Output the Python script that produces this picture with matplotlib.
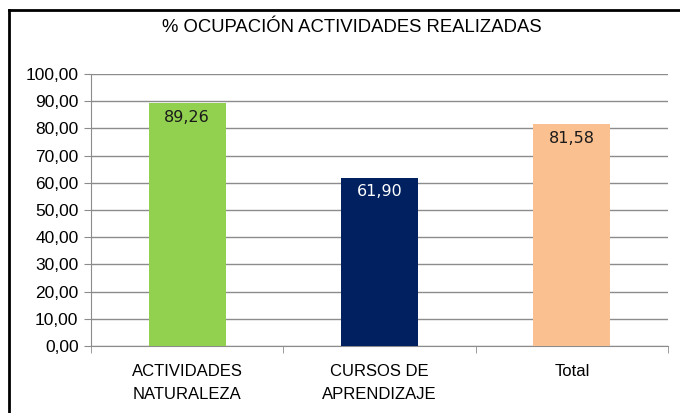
import matplotlib.pyplot as plt
from matplotlib.lines import Line2D
from matplotlib.ticker import FixedLocator, FuncFormatter

categories = ["ACTIVIDADES\nNATURALEZA", "CURSOS DE\nAPRENDIZAJE", "Total"]
values = [89.26, 61.90, 81.58]
colors = ["#92D050", "#002060", "#FAC090"]
label_colors = ["#1a1a1a", "white", "#1a1a1a"]

plt.rcParams['font.family'] = ['Liberation Sans', 'DejaVu Sans']

fig = plt.figure(figsize=(6.8, 4.13), dpi=100)
ax = fig.add_axes([91 / 680, 1 - 346 / 413, (668 - 91) / 680, (346 - 74) / 413])

x = list(range(len(categories)))
bars = ax.bar(x, values, width=0.4, color=colors, zorder=3)

for b, v, c in zip(bars, values, label_colors):
    ax.text(b.get_x() + b.get_width() / 2, v - 2.5, f"{v:.2f}".replace(".", ","),
            ha="center", va="top", fontsize=11.5, color=c, zorder=4,
            family=["DejaVu Sans"])

ax.set_xlim(-0.5, 2.5)
ax.set_ylim(0, 100)
ax.set_yticks(range(0, 101, 10))
ax.yaxis.set_major_formatter(FuncFormatter(lambda v, p: f"{v:.2f}".replace(".", ",")))
ax.grid(axis="y", color="#8c8c8c", linewidth=1, zorder=0)

ax.set_xticks(x)
ax.set_xticklabels(categories, fontsize=12, linespacing=1.65)
ax.xaxis.set_minor_locator(FixedLocator([-0.5, 0.5, 1.5, 2.5]))
ax.tick_params(axis="x", which="major", length=0, pad=13)
ax.tick_params(axis="x", which="minor", length=5, color="#8c8c8c")
ax.tick_params(axis="y", length=5, color="#8c8c8c", labelsize=12.5, pad=4)

for s in ["top", "right"]:
    ax.spines[s].set_visible(False)
for s in ["left", "bottom"]:
    ax.spines[s].set_color("#8c8c8c")

fig.text(352 / 680, 1 - 28 / 413, "% OCUPACIÓN ACTIVIDADES REALIZADAS",
         ha="center", va="center", fontsize=13.3)

# outer chart frame (top and left edges visible)
fig.add_artist(Line2D([9 / 680, 1], [1 - 10 / 413, 1 - 10 / 413], color="black", linewidth=2))
fig.add_artist(Line2D([9 / 680, 9 / 680], [0, 1 - 10 / 413], color="black", linewidth=2))

fig.savefig("out.png", dpi=100)
